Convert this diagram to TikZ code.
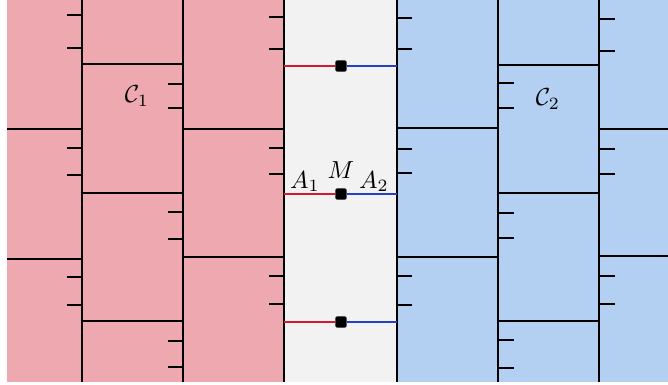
\documentclass[tikz,border=0pt]{standalone}
\usetikzlibrary{calc}
\definecolor{pinkfill}{RGB}{238,169,176}
\definecolor{bluefill}{RGB}{179,207,242}
\definecolor{grayfill}{RGB}{242,242,242}
\definecolor{redline}{RGB}{214,24,48}
\definecolor{blueline}{RGB}{40,64,200}

\begin{document}
\begin{tikzpicture}[x=0.75pt, y=-0.75pt, wall/.style={line width=1.1pt, black},
    midpt/.style={fill=black, rounded corners=1.5pt, minimum size=8.5pt, inner sep=0pt},
    lbl/.style={scale=1.85, transform shape, inner sep=0pt, anchor=base}]

  \useasboundingbox (0,0) rectangle (668,385);
  \fill[pinkfill] (7,0) rectangle (284,382);
  \fill[grayfill] (284,0) rectangle (397,382);
  \fill[bluefill] (397,0) rectangle (668,382);

  % cell walls
  \foreach \x in {82,183,284,397,498,599}
    \draw[wall] (\x,0) -- (\x,382);
  \foreach \y in {129,259} \draw[wall] (7,\y) -- (82,\y);
  \foreach \y in {64,193,321} \draw[wall] (82,\y) -- (183,\y);
  \foreach \y in {129,257} \draw[wall] (183,\y) -- (284,\y);
  \foreach \y in {128,257} \draw[wall] (397,\y) -- (498,\y);
  \foreach \y in {65,193,321} \draw[wall] (498,\y) -- (599,\y);
  \foreach \y in {129,256} \draw[wall] (599,\y) -- (668,\y);

  % ticks
  \foreach \y in {15,48,148,175,277,305} \draw[wall] (67,\y) -- (82,\y);
  \foreach \y in {84,108,212,239,341,367} \draw[wall] (168,\y) -- (183,\y);
  \foreach \y in {17,49,148,174,276,304} \draw[wall] (269,\y) -- (284,\y);
  \foreach \y in {18,49,149,173,276,305} \draw[wall] (397,\y) -- (412,\y);
  \foreach \y in {83,108,213,238,340,368} \draw[wall] (498,\y) -- (514,\y);
  \foreach \y in {19,51,149,174,276,304} \draw[wall] (599,\y) -- (615,\y);

  % links across the gap
  \foreach \y/\n in {66/top,194/mid,322/bot} {
    \coordinate (A1\n) at (284,\y);
    \coordinate (A2\n) at (397,\y);
    \node[midpt] (M\n) at (341,\y) {};
    \draw[redline, line width=1pt] (A1\n) -- (M\n);
    \draw[blueline, line width=1pt] (M\n) -- (A2\n);
  }

  \node[lbl] (la) at (305,188) {$A_1$};
  \node[lbl] (lm) at (341,178) {$M$};
  \node[lbl] (lb) at (374,188) {$A_2$};
  \node[lbl] (c1) at (137,103) {$\mathcal{C}_1$};
  \node[lbl] (c2) at (548,106) {$\mathcal{C}_2$};
\end{tikzpicture}
\end{document}
